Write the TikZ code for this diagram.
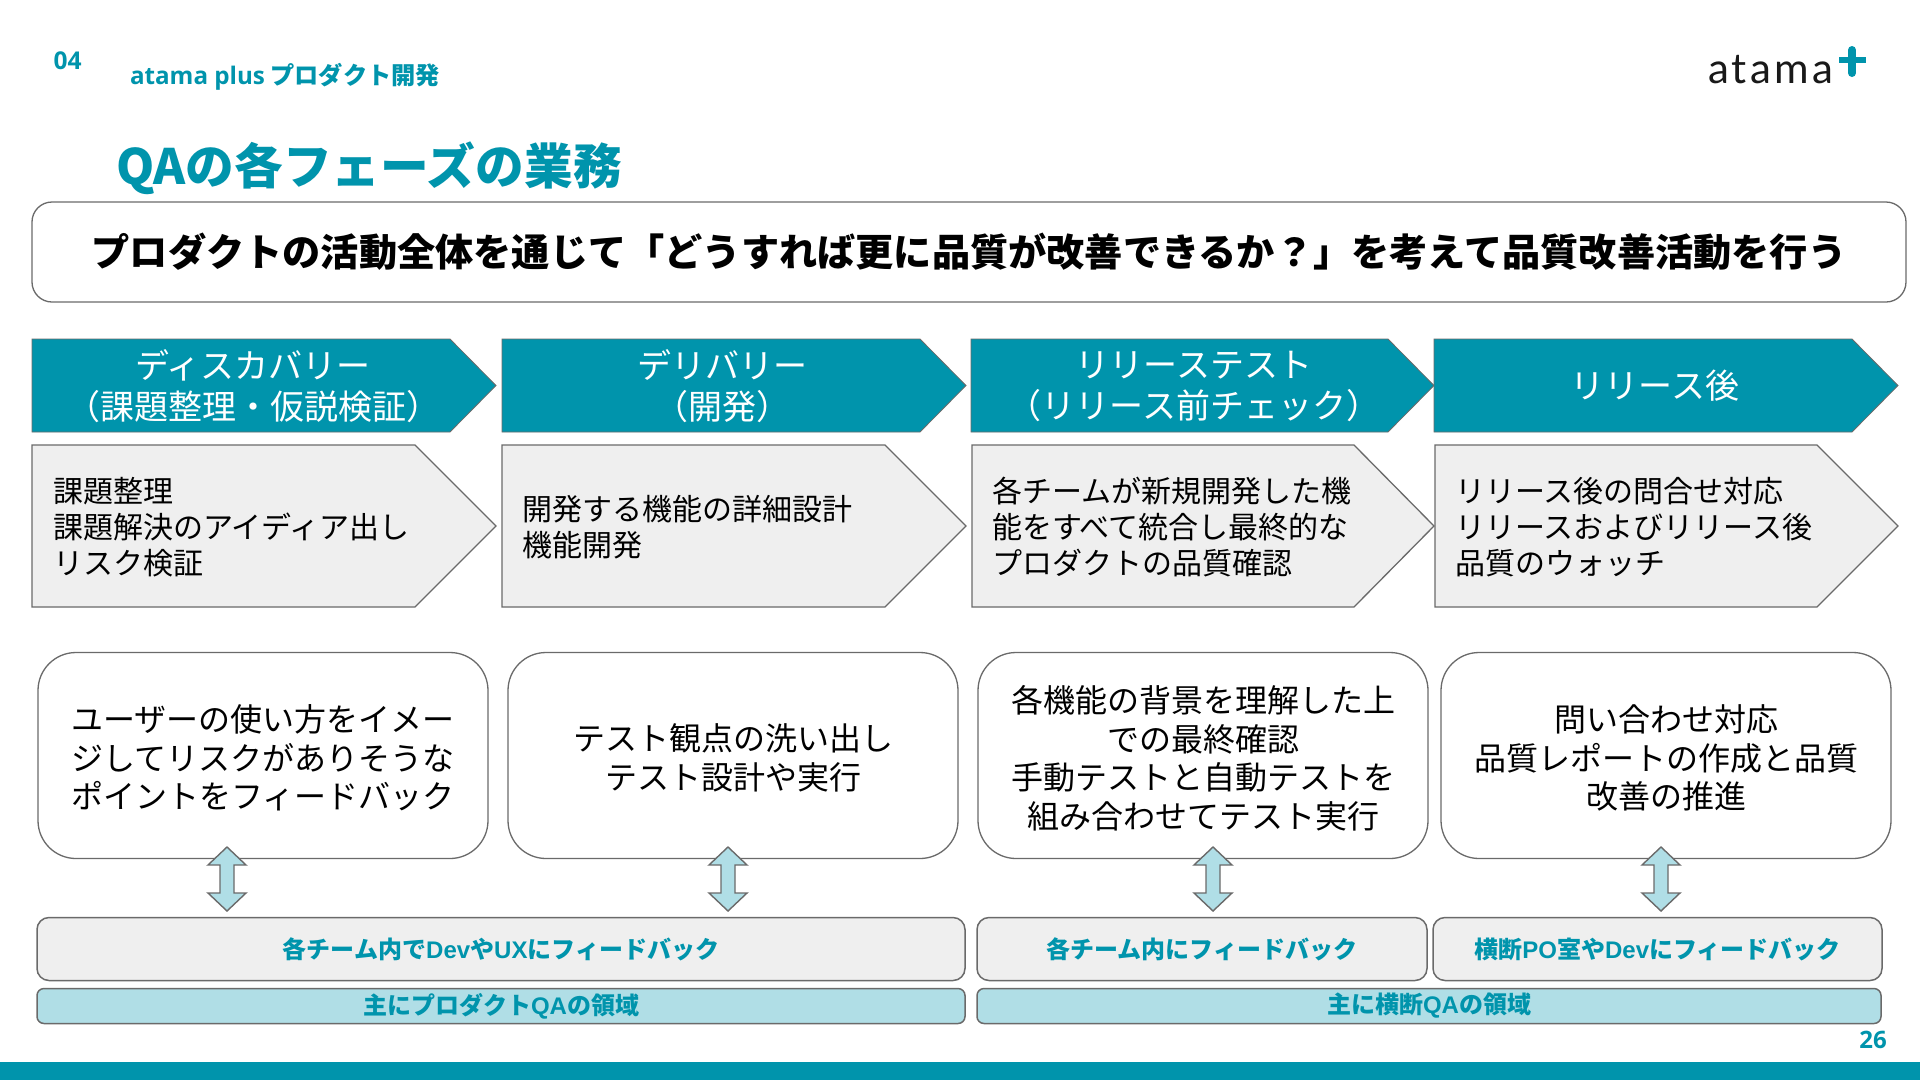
\documentclass[tikz,border=0pt]{standalone}
\usepackage{fontspec}
\setmainfont{Noto Sans CJK JP}
\newfontfamily\latfont{Liberation Sans}
\newfontfamily\opfont{Open Sans}
\newfontfamily\logofont[LetterSpace=8]{Lato}
\usetikzlibrary{calc}
\definecolor{teal}{HTML}{0094AC}
\definecolor{ltteal}{HTML}{B0DEE6}
\definecolor{panel}{HTML}{EFEFEF}
\definecolor{edge}{HTML}{6A6A6A}
\newcommand{\fsz}[2]{\fontsize{#1}{#2}\selectfont}
\newcommand{\lat}[1]{{\latfont #1}}
\tikzset{
  x=1pt,y=-1pt,
  every node/.style={inner sep=0pt,outer sep=0pt},
  headshape/.style={fill=teal,draw=edge,line width=0.8pt},
  bodyshape/.style={fill=panel,draw=edge,line width=1.3pt},
  headtext/.style={align=center,text=white,font=\fsz{34}{41}},
  bodytext/.style={align=left,anchor=west,font=\fsz{30}{36}},
  goalbox/.style={draw=edge,line width=1.3pt,rounded corners=20pt,fill=white,font=\fsz{38.2}{46}\bfseries},
  cardbox/.style={draw=edge,line width=1.3pt,rounded corners=38pt,fill=white,minimum width=450pt,minimum height=206pt},
  cardtext/.style={align=center,font=\fsz{32}{38.5}},
  feedbar/.style={draw=edge,line width=1.5pt,rounded corners=12pt,fill=panel,text=teal,font=\fsz{24}{28}\bfseries,minimum height=63pt},
  areabar/.style={draw=edge,line width=1.5pt,rounded corners=7pt,fill=ltteal,text=teal,font=\fsz{24}{28}\bfseries,minimum height=35pt},
  blockarrow/.style={fill=ltteal,draw=edge,line width=1.4pt,line join=miter},
  tealtext/.style={text=teal,font=\bfseries}
}
% #1 style, #2 left, #3 shoulder, #4 tip, #5 top, #6 bottom
\newcommand{\penta}[6]{\draw[#1] (#2,#5) -- (#3,#5) -- (#4,{(#5+#6)/2}) -- (#3,#6) -- (#2,#6) -- cycle;}
\newcommand{\fbarrow}[2]{%
  \coordinate (#1) at (#2,879);
  \draw[blockarrow] ($(#1)+(0,-32)$) -- ($(#1)+(19,-14)$) -- ($(#1)+(7,-14)$) -- ($(#1)+(7,14)$) -- ($(#1)+(19,14)$) -- ($(#1)+(0,32)$) -- ($(#1)+(-19,14)$) -- ($(#1)+(-7,14)$) -- ($(#1)+(-7,-14)$) -- ($(#1)+(-19,-14)$) -- cycle;}
\begin{document}
\begin{tikzpicture}
\useasboundingbox (0,0) rectangle (1920,1080);
\fill[white] (0,0) rectangle (1920,1080);
\fill[teal] (0,1062) rectangle (1920,1080);

\node[tealtext,font=\opfont\fsz{24.5}{28}\bfseries] (secno) at (67.5,61) {04};
\node[tealtext,anchor=west,font=\fsz{24.2}{28}\bfseries] (sect) at (130,77) {{\opfont atama plus} プロダクト開発};
\node[tealtext,anchor=west,font=\fsz{48.7}{56}\bfseries] (title) at (116,168) {QAの各フェーズの業務};

% logo
\node[anchor=base west,text=black!90,font=\logofont\fsz{42}{46}] (logo) at (1708,83) {atama};
\draw[teal,line width=6pt] (1839,60) -- (1866,60);
\draw[teal,line width=8pt,line cap=round] (1852,50) -- (1852,73);

\node[goalbox,minimum width=1874pt,minimum height=100pt] (goal) at (969,252) {\raisebox{-1pt}{プロダクトの活動全体を通じて「どうすれば更に品質が改善できるか？」を考えて品質改善活動を行う}};

% phase headers
\penta{headshape}{32}{450}{496}{339}{432}
\penta{headshape}{502}{920}{966}{339}{432}
\penta{headshape}{971}{1388}{1434}{339}{432}
\penta{headshape}{1434}{1852}{1898}{339}{432}
\node[headtext] (h1) at (253,386) {ディスカバリー\\（課題整理・仮説検証）};
\node[headtext] (h2) at (722,386) {デリバリー\\（開発）};
\node[headtext] (h3) at (1194,386) {リリーステスト\\（リリース前チェック）};
\node[headtext] (h4) at (1655,386) {リリース後};

% phase bodies
\penta{bodyshape}{32}{415}{496}{445}{607}
\penta{bodyshape}{502}{885}{966}{445}{607}
\penta{bodyshape}{972}{1354}{1434}{445}{607}
\penta{bodyshape}{1435}{1817}{1898}{445}{607}
\node[bodytext] (b1) at (53,527) {課題整理\\課題解決のアイディア出し\\リスク検証};
\node[bodytext] (b2) at (522,527) {開発する機能の詳細設計\\機能開発};
\node[bodytext] (b3) at (992,527) {各チームが新規開発した機\\能をすべて統合し最終的な\\プロダクトの品質確認};
\node[bodytext] (b4) at (1455,527) {リリース後の問合せ対応\\リリースおよびリリース後\\品質のウォッチ};

% QA cards
\node[cardbox] (c1) at (263,755.5) {};
\node[cardbox] (c2) at (733,755.5) {};
\node[cardbox] (c3) at (1203,755.5) {};
\node[cardbox] (c4) at (1666,755.5) {};
\node[cardtext] (t1) at (263,758) {ユーザーの使い方をイメー\\ジしてリスクがありそうな\\ポイントをフィードバック};
\node[cardtext] (t2) at (733,758) {テスト観点の洗い出し\\テスト設計や実行};
\node[cardtext] (t3) at (1203,758) {各機能の背景を理解した上\\での最終確認\\手動テストと自動テストを\\組み合わせてテスト実行};
\node[cardtext] (t4) at (1666,758) {問い合わせ対応\\品質レポートの作成と品質\\改善の推進};

% feedback bars
\node[feedbar,minimum width=928pt] (f1) at (501,949) {各チーム内で\lat{Dev}や\lat{UX}にフィードバック};
\node[feedbar,minimum width=450pt] (f2) at (1202,949) {各チーム内にフィードバック};
\node[feedbar,minimum width=449pt] (f3) at (1657.5,949) {横断\lat{PO}室や\lat{Dev}にフィードバック};
\node[areabar,minimum width=928pt] (a1) at (501,1006) {\raisebox{-1pt}{主にプロダクト\lat{QA}の領域}};
\node[areabar,minimum width=904pt] (a2) at (1429,1006) {\raisebox{-1pt}{主に横断\lat{QA}の領域}};

\fbarrow{fb1}{227}
\fbarrow{fb2}{728}
\fbarrow{fb3}{1213}
\fbarrow{fb4}{1661}

\node[tealtext,font=\opfont\fsz{24}{28}\bfseries] (pg) at (1873,1040) {26};
\end{tikzpicture}
\end{document}
